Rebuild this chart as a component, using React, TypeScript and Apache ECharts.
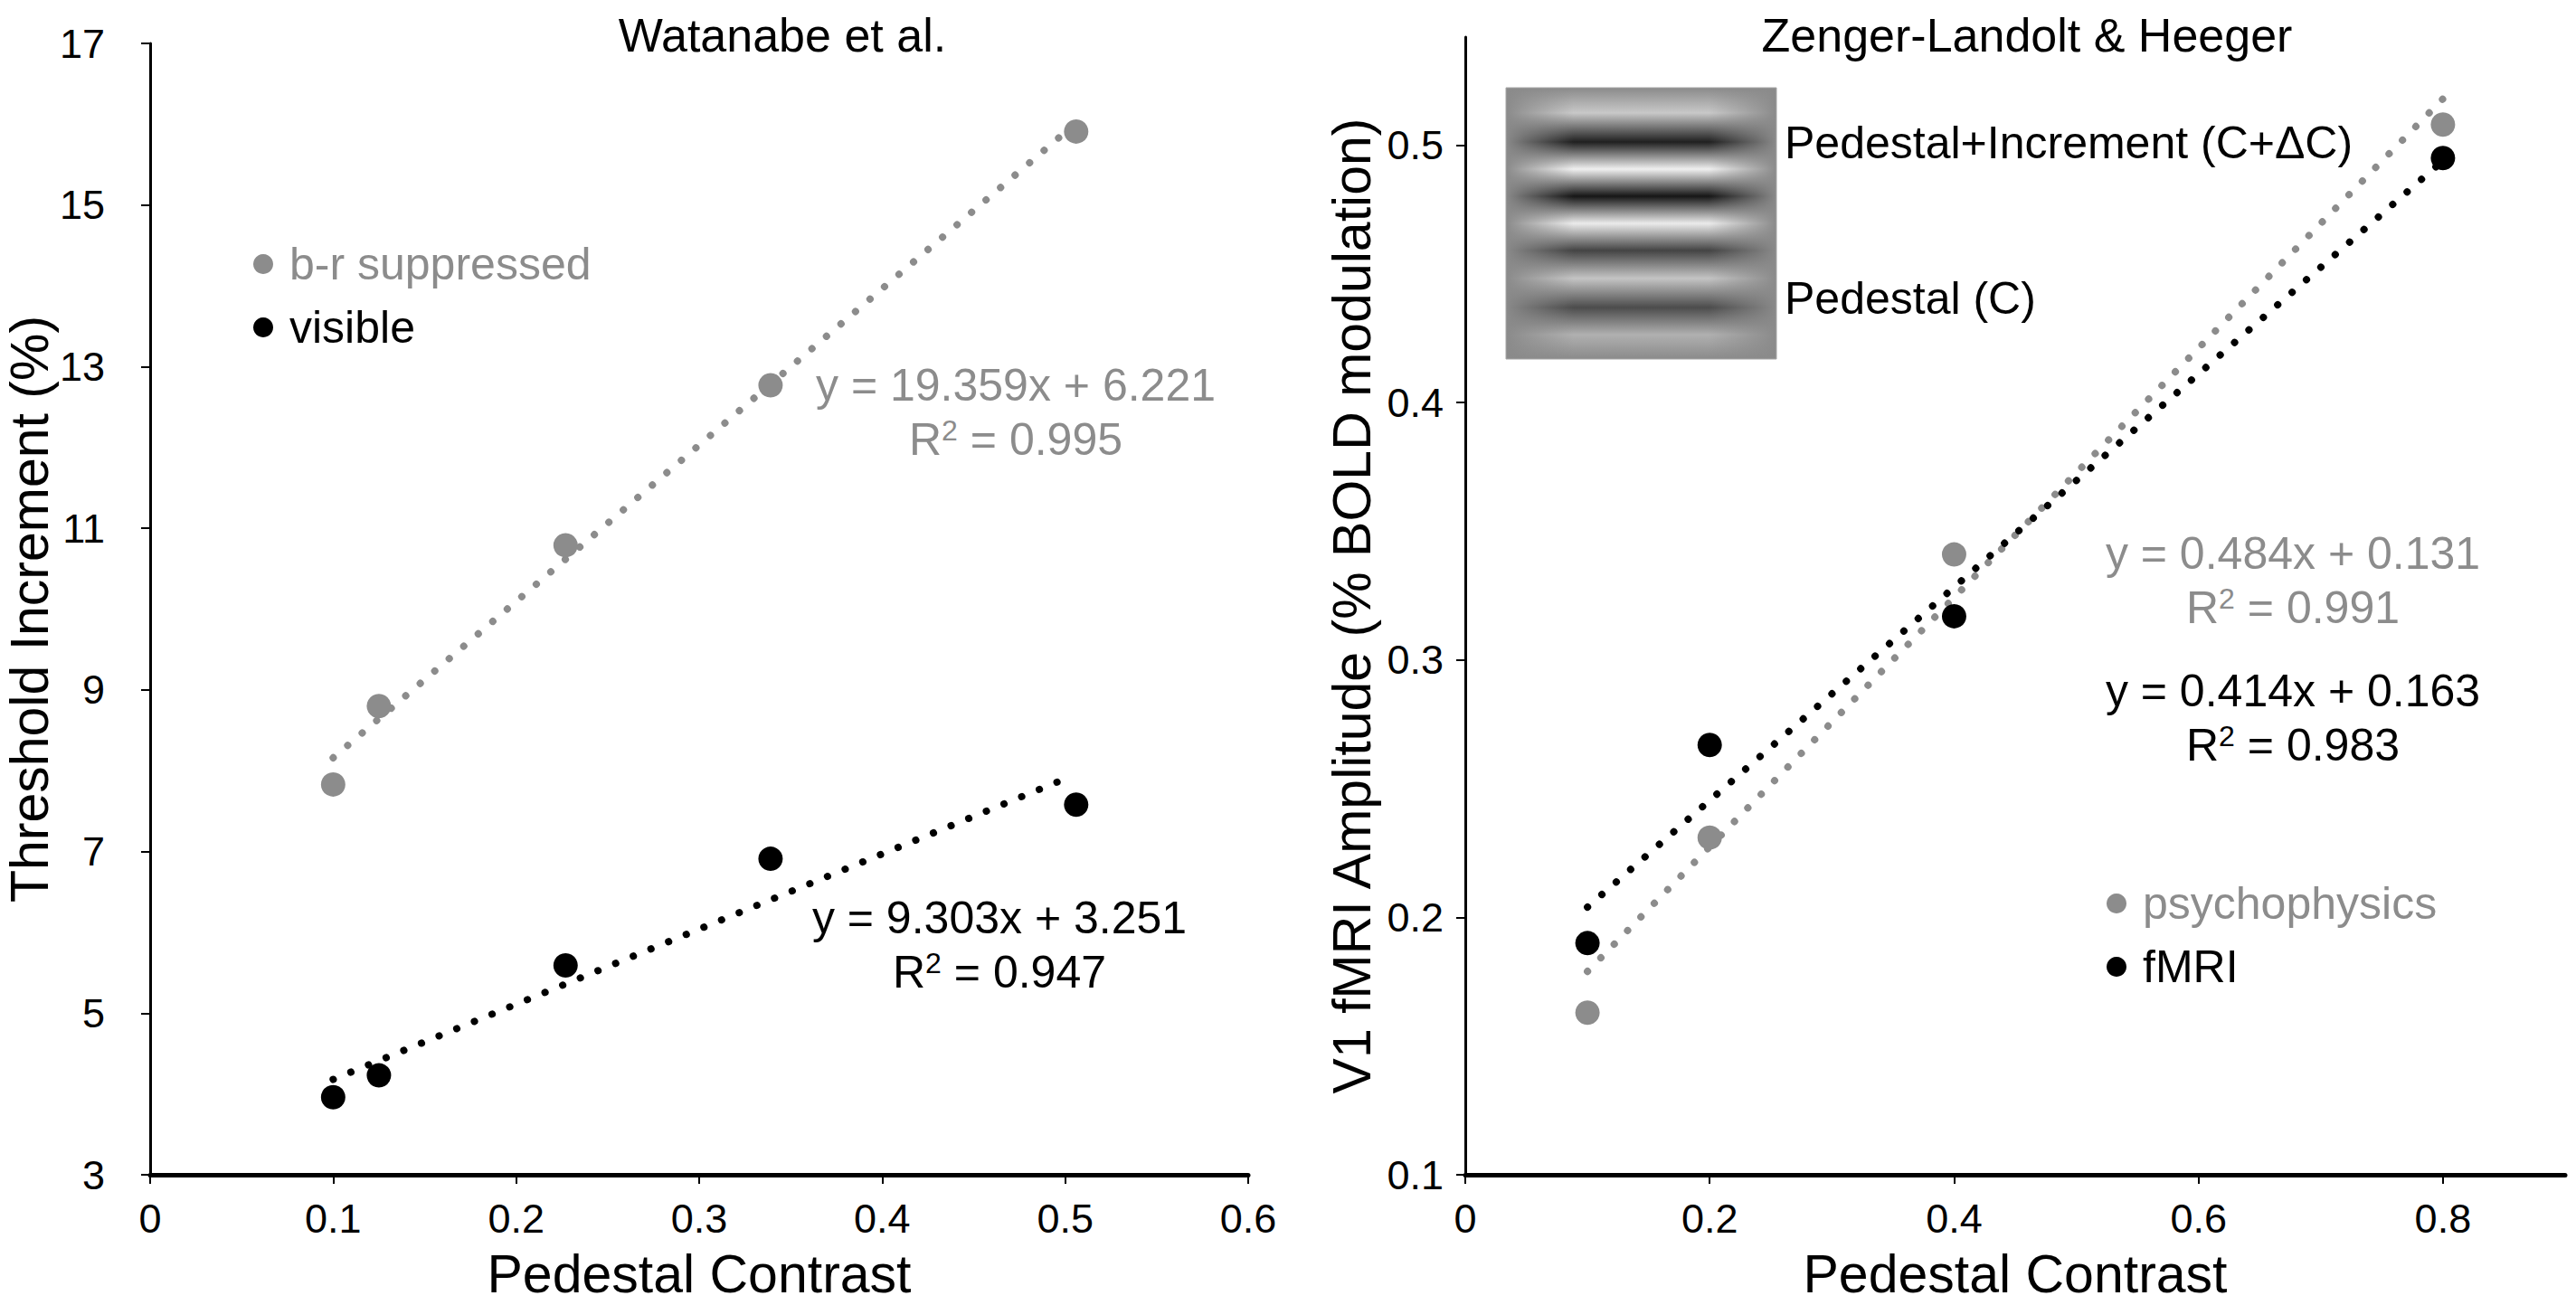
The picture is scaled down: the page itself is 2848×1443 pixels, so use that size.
import * as React from "react";
import * as echarts from "echarts";

// Watanabe et al. (left panel)
const watanabeContrast = [0.1, 0.125, 0.227, 0.339, 0.506];
const watanabeSuppressed = [7.83, 8.8, 10.79, 12.77, 15.91];
const watanabeVisible = [3.96, 4.23, 5.59, 6.91, 7.58];
const watanabeFitX = [0.1, 0.5];
const watanabeFitSuppressed = [8.16, 15.9];
const watanabeFitVisible = [4.18, 7.9];
const watanabeYTicks = [3, 5, 7, 9, 11, 13, 15, 17];

// Zenger-Landolt & Heeger (right panel)
const zlhContrast = [0.1, 0.2, 0.4, 0.8];
const zlhPsychophysics = [0.163, 0.231, 0.341, 0.508];
const zlhFmri = [0.19, 0.267, 0.317, 0.495];
const zlhFitX = [0.1, 0.8];
const zlhFitPsychophysics = [0.179, 0.518];
const zlhFitFmri = [0.204, 0.494];
const zlhXTicks = [0, 0.2, 0.4, 0.6, 0.8];
const zlhYTicks = [0.1, 0.2, 0.3, 0.4, 0.5];

const FONT = "'Liberation Sans', Arial, sans-serif";
const GRAY = "#8c8c8c";
const BLACK = "#000000";

const pairs = (xs: number[], ys: number[]) => xs.map((x, i) => [x, ys[i]]);

const dotted = (color: string) => ({
  color,
  width: 8,
  type: [0.1, 21] as any,
  cap: "round" as const,
});

// fit equation + R² caption, centred on x
function equation(x: number, y: number, line1: string, r2: string, color: string) {
  const rich = {
    a: { fontSize: 50, fontFamily: FONT, fill: color, color },
    s: { fontSize: 32, fontFamily: FONT, fill: color, color, padding: [0, 0, 20, 0] },
  };
  return [
    {
      type: "text",
      x,
      y,
      style: { text: line1, fontSize: 50, fontFamily: FONT, fill: color, align: "center", verticalAlign: "middle" },
    },
    {
      type: "text",
      x,
      y: y + 60,
      style: { text: `{a|R}{s|2}{a| = ${r2}}`, rich, fill: color, align: "center", verticalAlign: "middle" },
    },
  ];
}

export default function App() {
  const ref = React.useRef<HTMLDivElement | null>(null);

  React.useEffect(() => {
    if (!ref.current) return;
    document.body.style.margin = "0";
    const chart = echarts.init(ref.current, null, { renderer: "svg" });

    const axisCommon = {
      axisLine: { show: true, lineStyle: { color: BLACK, width: 3 } },
      axisTick: { show: true, inside: false, length: 10, lineStyle: { color: BLACK, width: 2 } },
      axisLabel: { color: BLACK, fontSize: 45, fontFamily: FONT },
      splitLine: { show: false },
      nameTextStyle: { color: BLACK, fontSize: 59, fontFamily: FONT },
    };

    const grating = new echarts.graphic.LinearGradient(0, 0, 0, 1, [
      { offset: 0, color: "#8a8a8a" },
      { offset: 0.093, color: "#c8c8c8" },
      { offset: 0.2, color: "#202020" },
      { offset: 0.3, color: "#f0f0f0" },
      { offset: 0.4, color: "#161616" },
      { offset: 0.5, color: "#ebebeb" },
      { offset: 0.6, color: "#444444" },
      { offset: 0.703, color: "#c4c4c4" },
      { offset: 0.81, color: "#4c4c4c" },
      { offset: 0.91, color: "#b0b0b0" },
      { offset: 1, color: "#8a8a8a" },
    ]);
    const fade = new echarts.graphic.LinearGradient(0, 0, 1, 0, [
      { offset: 0, color: "rgba(138,138,138,1)" },
      { offset: 0.07, color: "rgba(138,138,138,0.7)" },
      { offset: 0.25, color: "rgba(138,138,138,0)" },
      { offset: 0.75, color: "rgba(138,138,138,0)" },
      { offset: 0.93, color: "rgba(138,138,138,0.7)" },
      { offset: 1, color: "rgba(138,138,138,1)" },
    ]);

    const legendCommon = {
      orient: "vertical",
      icon: "circle",
      itemWidth: 22,
      itemHeight: 22,
      itemGap: 20,
      selectedMode: false,
      textStyle: { fontSize: 50, fontFamily: FONT, lineHeight: 50, padding: [0, 0, 0, 13] },
    };

    const option: any = {
      animation: false,
      backgroundColor: "#ffffff",
      textStyle: { fontFamily: FONT },
      title: [
        { text: "Watanabe et al.", left: 860, top: 8, textAlign: "center", textStyle: { fontSize: 52, fontWeight: "normal", color: BLACK, fontFamily: FONT } },
        { text: "Zenger-Landolt & Heeger", left: 2236, top: 8, textAlign: "center", textStyle: { fontSize: 52, fontWeight: "normal", color: BLACK, fontFamily: FONT } },
      ],
      legend: [
        {
          ...legendCommon,
          left: 275,
          top: 262,
          data: [
            { name: "b-r suppressed", textStyle: { color: GRAY } },
            { name: "visible", textStyle: { color: BLACK } },
          ],
        },
        {
          ...legendCommon,
          left: 2324,
          top: 969,
          data: [
            { name: "psychophysics", textStyle: { color: GRAY } },
            { name: "fMRI", textStyle: { color: BLACK } },
          ],
        },
      ],
      grid: [
        { left: 166, top: 48, width: 1214, height: 1254 },
        { left: 1620, top: 41, width: 1216, height: 1268 },
      ],
      xAxis: [
        {
          ...axisCommon,
          gridIndex: 0,
          type: "value",
          min: 0,
          max: 0.6,
          interval: 0.1,
          name: "Pedestal Contrast",
          nameLocation: "middle",
          nameGap: 80,
          axisLine: { show: true, lineStyle: { color: BLACK, width: 5 } },
          axisLabel: { ...axisCommon.axisLabel, margin: 26 },
        },
        {
          ...axisCommon,
          gridIndex: 1,
          type: "value",
          min: 0,
          max: 0.9,
          name: "Pedestal Contrast",
          nameLocation: "middle",
          nameGap: 80,
          axisLine: { show: true, lineStyle: { color: BLACK, width: 5 } },
          axisTick: { ...axisCommon.axisTick, customValues: zlhXTicks },
          axisLabel: { ...axisCommon.axisLabel, margin: 26, customValues: zlhXTicks },
        },
      ],
      yAxis: [
        {
          ...axisCommon,
          gridIndex: 0,
          type: "value",
          min: 3,
          max: 17,
          name: "Threshold Increment (%)",
          nameLocation: "middle",
          nameGap: 94,
          axisTick: { ...axisCommon.axisTick, customValues: watanabeYTicks },
          axisLabel: { ...axisCommon.axisLabel, margin: 50, customValues: watanabeYTicks },
        },
        {
          ...axisCommon,
          gridIndex: 1,
          type: "value",
          min: 0.1,
          max: 0.542,
          name: "V1 fMRI Amplitude (% BOLD modulation)",
          nameLocation: "middle",
          nameGap: 96,
          axisTick: { ...axisCommon.axisTick, customValues: zlhYTicks },
          axisLabel: { ...axisCommon.axisLabel, margin: 24, customValues: zlhYTicks },
        },
      ],
      series: [
        {
          name: "fit-suppressed",
          type: "line",
          xAxisIndex: 0,
          yAxisIndex: 0,
          data: pairs(watanabeFitX, watanabeFitSuppressed),
          showSymbol: false,
          lineStyle: dotted(GRAY),
          z: 1,
        },
        {
          name: "fit-visible",
          type: "line",
          xAxisIndex: 0,
          yAxisIndex: 0,
          data: pairs(watanabeFitX, watanabeFitVisible),
          showSymbol: false,
          lineStyle: dotted(BLACK),
          z: 1,
        },
        {
          name: "b-r suppressed",
          type: "scatter",
          xAxisIndex: 0,
          yAxisIndex: 0,
          data: pairs(watanabeContrast, watanabeSuppressed),
          symbolSize: 27,
          itemStyle: { color: GRAY, opacity: 1 },
          z: 3,
        },
        {
          name: "visible",
          type: "scatter",
          xAxisIndex: 0,
          yAxisIndex: 0,
          data: pairs(watanabeContrast, watanabeVisible),
          symbolSize: 27,
          itemStyle: { color: BLACK, opacity: 1 },
          z: 3,
        },
        {
          name: "fit-psychophysics",
          type: "line",
          xAxisIndex: 1,
          yAxisIndex: 1,
          data: pairs(zlhFitX, zlhFitPsychophysics),
          showSymbol: false,
          lineStyle: dotted(GRAY),
          z: 1,
        },
        {
          name: "fit-fmri",
          type: "line",
          xAxisIndex: 1,
          yAxisIndex: 1,
          data: pairs(zlhFitX, zlhFitFmri),
          showSymbol: false,
          lineStyle: dotted(BLACK),
          z: 1,
        },
        {
          name: "psychophysics",
          type: "scatter",
          xAxisIndex: 1,
          yAxisIndex: 1,
          data: pairs(zlhContrast, zlhPsychophysics),
          symbolSize: 27,
          itemStyle: { color: GRAY, opacity: 1 },
          z: 3,
        },
        {
          name: "fMRI",
          type: "scatter",
          xAxisIndex: 1,
          yAxisIndex: 1,
          data: pairs(zlhContrast, zlhFmri),
          symbolSize: 27,
          itemStyle: { color: BLACK, opacity: 1 },
          z: 3,
        },
      ],
      graphic: [
        ...equation(1123, 426, "y = 19.359x + 6.221", "0.995", GRAY),
        ...equation(1105, 1015, "y = 9.303x + 3.251", "0.947", BLACK),
        ...equation(2535, 612, "y = 0.484x + 0.131", "0.991", GRAY),
        ...equation(2535, 764, "y = 0.414x + 0.163", "0.983", BLACK),
        // stimulus: pedestal + increment grating above, pedestal grating below
        { type: "rect", shape: { x: 1665, y: 97, width: 299, height: 300 }, style: { fill: grating } },
        { type: "rect", shape: { x: 1665, y: 97, width: 299, height: 300 }, style: { fill: fade, stroke: "#a6a6a6", lineWidth: 1 } },
        {
          type: "text",
          x: 1973,
          y: 158,
          style: { text: "Pedestal+Increment (C+ΔC)", fontSize: 50, fontFamily: FONT, fill: BLACK, verticalAlign: "middle" },
        },
        {
          type: "text",
          x: 1973,
          y: 330,
          style: { text: "Pedestal (C)", fontSize: 50, fontFamily: FONT, fill: BLACK, verticalAlign: "middle" },
        },
      ],
    };

    chart.setOption(option);
    return () => chart.dispose();
  }, []);

  return <div ref={ref} style={{ position: "fixed", left: 0, top: 0, width: 2848, height: 1443 }} />;
}
